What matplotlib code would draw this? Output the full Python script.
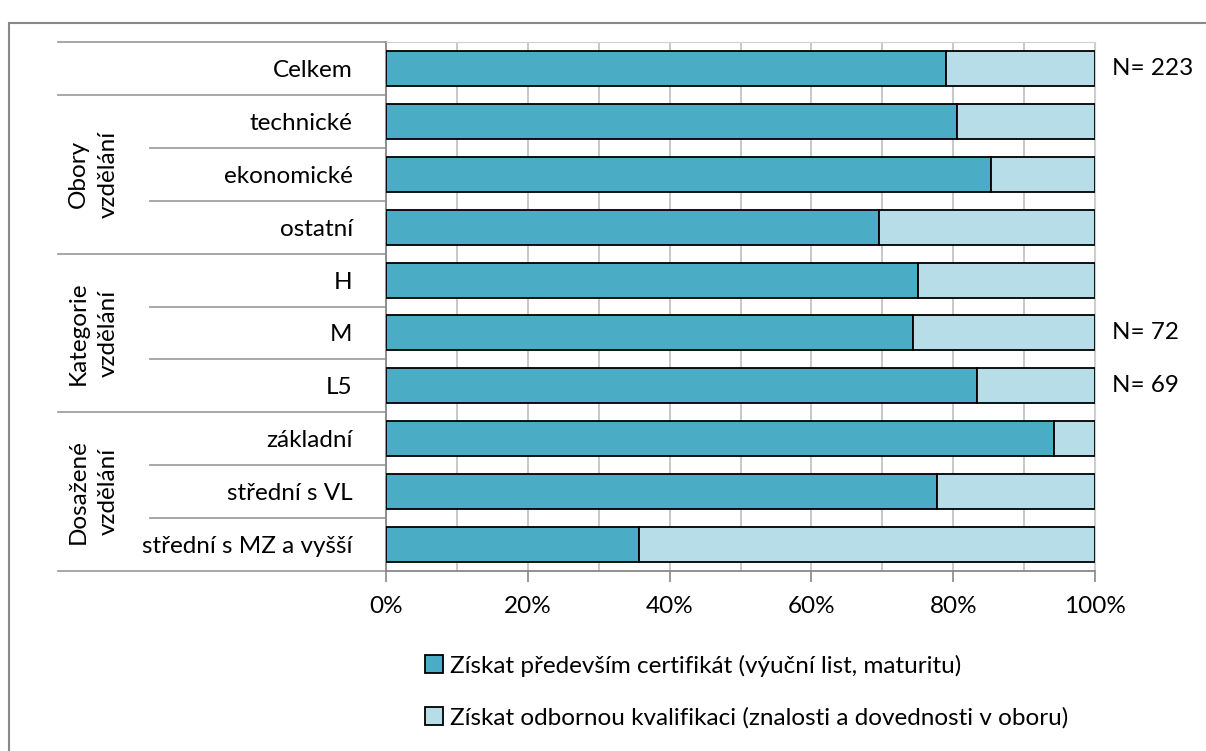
import numpy as np
import matplotlib.pyplot as plt
from matplotlib.patches import Rectangle
from matplotlib.ticker import FuncFormatter, MultipleLocator
import matplotlib.transforms as mtransforms

plt.rcParams['font.family'] = ['Lato', 'DejaVu Sans']

categories = ['Celkem', 'technické', 'ekonomické', 'ostatní', 'H', 'M', 'L5',
              'základní', 'střední s VL', 'střední s MZ a vyšší']
certifikat = [0.790, 0.806, 0.854, 0.696, 0.751, 0.744, 0.834, 0.942, 0.777, 0.357]
kvalifikace = [1 - v for v in certifikat]
n_labels = ['N= 223', '', '', '', '', 'N= 72', 'N= 69', '', '', '']
groups = ['Obory\nvzdělání', 'Kategorie\nvzdělání', 'Dosažené\nvzdělání']
group_rows = [(1, 3), (4, 6), (7, 9)]
series = ['Získat především certifikát (výuční list, maturitu)',
          'Získat odbornou kvalifikaci (znalosti a dovednosti v oboru)']

fs = 17.5
dark = '#4BACC6'
light = '#B7DEE8'

fig = plt.figure(figsize=(12.06, 7.51), dpi=100)
ax = fig.add_axes([386 / 1206, 1 - 571 / 751, 709 / 1206, 529 / 751])

y = np.arange(len(categories))
ax.barh(y, certifikat, height=0.66, color=dark, edgecolor='black', linewidth=1.3,
        label=series[0], zorder=3)
ax.barh(y, kvalifikace, left=certifikat, height=0.66, color=light, edgecolor='black',
        linewidth=1.3, label=series[1], zorder=3)

ax.set_xlim(0, 1)
ax.set_ylim(len(categories) - 0.5, -0.5)
ax.xaxis.set_major_locator(MultipleLocator(0.2))
ax.xaxis.set_minor_locator(MultipleLocator(0.1))
ax.xaxis.set_major_formatter(FuncFormatter(lambda v, p: f'{v * 100:.0f}%'))
ax.grid(axis='x', which='both', color='#BFBFBF', linewidth=1.2, zorder=0)
ax.tick_params(axis='x', which='major', length=8, width=1.2, color='#888888',
               labelsize=fs, pad=10)
ax.tick_params(axis='x', which='minor', length=0)
ax.set_yticks(y)
ax.set_yticklabels(categories, fontsize=fs)
ax.tick_params(axis='y', length=0, pad=24)
for s in ['top', 'right']:
    ax.spines[s].set_color('#D0D0D0')
for s in ['left', 'bottom']:
    ax.spines[s].set_color('#888888')
    ax.spines[s].set_linewidth(1.3)

# row separators in the label area
tr = mtransforms.blended_transform_factory(ax.transAxes, ax.transData)
group_x = (58 - 386) / 709
sub_x = (150 - 386) / 709
for b in np.arange(-0.5, len(categories)):
    start = group_x if b in (-0.5, 0.5, 3.5, 6.5, 9.5) else sub_x
    ax.plot([start, 0], [b, b], color='#A0A0A0', linewidth=1.3,
            transform=tr, clip_on=False)

for label, (a, b) in zip(groups, group_rows):
    ax.text((93 - 386) / 709, (a + b) / 2, label, rotation=90, transform=tr,
            ha='center', va='center', fontsize=fs, multialignment='center',
            linespacing=1.5)

for yi, t in zip(y, n_labels):
    if t:
        ax.text(1.024, yi, t, transform=tr, ha='left', va='center', fontsize=fs)

fig.legend(loc='upper left', bbox_to_anchor=(415 / 1206, 1 - 645 / 751),
           frameon=False, fontsize=fs, handlelength=0.75, handleheight=0.75,
           handletextpad=0.3, labelspacing=1.25, borderaxespad=0)

fig.patches.append(Rectangle((9 / 1206, -0.1), 1.2, 1 - 23 / 751 + 0.1,
                             transform=fig.transFigure, fill=False,
                             edgecolor='#888888', linewidth=1.5))

fig.savefig('out.png', dpi=100)
